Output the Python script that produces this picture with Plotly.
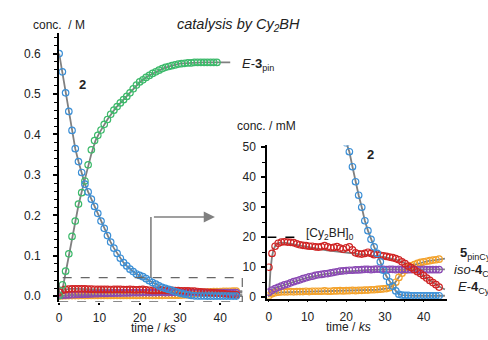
import plotly.graph_objects as go

# ---------------- data (concentrations in mM, time in ks) ----------------
T = [0.0, 0.8, 1.6, 2.4, 3.2, 4.0, 4.8, 5.6, 6.4, 7.2, 8.0, 8.8, 9.6, 10.4, 11.2,
     12.0, 12.8, 13.6, 14.4, 15.2, 16.0, 16.8, 17.6, 18.4, 19.2, 20.0, 20.8, 21.6,
     22.4, 23.2, 24.0, 24.8, 25.6, 26.4, 27.2, 28.0, 28.8, 29.6, 30.4, 31.2, 32.0,
     32.8, 33.6, 34.4, 35.2, 36.0, 36.8, 37.6, 38.4, 39.2, 40.0, 40.8, 41.6, 42.4,
     43.2, 44.0]

S2 = [600, 555, 503, 457, 410, 365, 333, 306, 277, 258, 240, 222, 205, 186, 168,
      150, 134, 119, 106, 94, 83, 75, 67, 61, 55, 51.5, 48.5, 43.5,
      38.5, 34.0, 30.0, 25.5, 22.2, 19.3, 16.8, 14.6, 11.8, 9.0, 7.0, 5.1, 3.7,
      2.1, 1.0, 0.7, 0.6, 0.6, 0.5, 0.5, 0.5, 0.5, 0.5, 0.5, 0.5, 0.5,
      0.5, 0.5]

E3PIN = [2, 28, 62, 105, 148, 186, 228, 256, 285, 325, 362, 385, 398, 411, 425,
         437, 450, 460, 469, 478, 486, 494, 503, 513, 522, 530, 535, 541,
         546, 551, 555, 559, 563, 566, 568, 570, 572, 574, 575, 576, 577,
         577, 578, 578, 578, 578, 578, 578, 578, 578, None, None, None, None,
         None, None]

E4CY = [10.0, 14.6, 17.0, 18.0, 18.4, 18.5, 18.4, 18.3, 18.2, 17.8, 17.5, 17.3, 17.2, 17.0, 17.0,
        16.8, 16.7, 16.9, 17.2, 16.8, 16.5, 16.6, 16.9, 16.4, 16.0, 16.5, 16.8, 15.8,
        14.8, 14.5, 14.4, 14.6, 15.0, 14.6, 14.2, 14.4, 14.0, 13.8, 13.6, 13.4, 13.2,
        12.9, 12.5, 11.8, 11.2, 10.4, 9.9, 9.2, 8.5, 7.9, 7.2, 6.4, 5.6, 4.9,
        4.2, 3.4]

ISO4CY = [1.7, 2.4, 2.9, 3.3, 3.7, 4.1, 4.4, 4.8, 5.2, 5.5, 5.8, 6.2, 6.5, 6.8, 7.0,
          7.3, 7.5, 7.6, 7.8, 7.9, 8.1, 8.3, 8.5, 8.7, 8.8, 8.9, 9.0, 9.0,
          9.1, 9.1, 9.2, 9.3, 9.3, 9.2, 9.3, 9.4, 9.3, 9.3, 9.2, 9.3, 9.3,
          9.2, 9.3, 9.2, 9.3, 9.2, 9.2, 9.3, 9.2, 9.2, 9.3, 9.2, 9.2, 9.2,
          9.2, 9.2]

P5CY = [0.5, 1.2, 1.5, 1.7, 1.8, 1.8, 1.8, 1.9, 1.8, 1.9, 1.9, 1.9, 2.0, 1.9, 2.0,
        2.0, 2.0, 2.0, 2.1, 2.0, 2.0, 2.1, 2.1, 2.2, 2.1, 2.2, 2.2, 2.3,
        2.2, 2.3, 2.3, 2.4, 2.4, 2.5, 2.5, 2.6, 2.7, 2.8, 2.9, 3.2, 3.8,
        5.0, 6.6, 8.0, 9.0, 9.9, 10.5, 10.9, 11.3, 11.6, 11.8, 12.0, 12.2, 12.4,
        12.5, 12.7]

# model fits (grey lines)
FIT_T_E3 = [0.5, 1.6, 2.4, 3.2, 4.0, 4.8, 5.6, 6.4, 7.2, 8.0, 9.0, 10.0, 12.0, 14.0,
            16.0, 18.0, 20.0, 22.0, 24.0, 26.0, 28.0, 30.0, 33.0, 36.0, 42.5]
FIT_E3 = [0, 58, 101, 144, 186, 225, 258, 290, 322, 352, 384, 404, 437, 465,
          486, 508, 529, 544, 555, 564, 570, 575, 577, 578, 578]

FIT_T_E4 = [0, 0.4, 0.8, 1.2, 1.8, 2.5, 4, 6, 10, 15, 20, 25, 30, 33, 35, 37, 40, 44, 45.5]
FIT_E4 = [0, 9, 13.5, 16, 17.5, 18.1, 18.2, 17.8, 16.8, 15.6, 14.8, 14.2, 13.4, 12.5, 11.4,
          9.6, 7.0, 3.6, 2.6]

FIT_T_ISO = [0, 1, 2, 4, 7, 10, 14, 18, 22, 26, 30, 45.5]
FIT_ISO = [1.6, 2.6, 3.2, 4.1, 5.4, 6.5, 7.6, 8.4, 8.9, 9.15, 9.25, 9.3]

FIT_T_P5 = [0, 1, 3, 10, 20, 28, 31, 32, 33, 34, 35, 36, 37.5, 39, 41, 43, 45.5]
FIT_P5 = [0.2, 1.2, 1.6, 1.8, 2.1, 2.5, 3.0, 3.8, 5.6, 7.5, 8.8, 9.8, 10.8, 11.4, 12.0, 12.4, 12.9]

FIT_T_2 = T + [45.5]
FIT_2 = S2 + [0.5]

CAT0 = 20  # [Cy2BH]0 in mM

# ---------------- styling ----------------
W, H = 488, 340
BLUE = "#3b8fd6"
GREEN = "#3cb96a"
RED = "#cf2424"
PURPLE = "#8a4ab3"
ORANGE = "#f3a22c"
GREY = "#808080"
FONT = "Liberation Sans, Arial, sans-serif"
TXT = "#222222"


def px(x):
    return x / W


def py(y):
    return 1 - y / H


def to_M(vals):
    return [None if v is None else v / 1000 for v in vals]


fig = go.Figure()


def line(x, y, xa, ya):
    fig.add_trace(go.Scatter(x=x, y=y, mode="lines", xaxis=xa, yaxis=ya,
                             line=dict(color=GREY, width=1.8), hoverinfo="skip",
                             showlegend=False))


def pts(x, y, color, xa, ya):
    fig.add_trace(go.Scatter(x=x, y=y, mode="markers", xaxis=xa, yaxis=ya,
                             marker=dict(symbol="circle-open", size=6.5, color=color,
                                         line=dict(width=1.2, color=color)),
                             showlegend=False, cliponaxis=True))


# main plot (M)
line(FIT_T_2, to_M(FIT_2), "x", "y")
line(FIT_T_E3, to_M(FIT_E3), "x", "y")
line(FIT_T_E4, to_M(FIT_E4), "x", "y")
line(FIT_T_ISO, to_M(FIT_ISO), "x", "y")
line(FIT_T_P5, to_M(FIT_P5), "x", "y")
pts(T, to_M(P5CY), ORANGE, "x", "y")
pts(T, to_M(ISO4CY), PURPLE, "x", "y")
pts(T, to_M(E4CY), RED, "x", "y")
pts(T, to_M(E3PIN), GREEN, "x", "y")
pts(T, to_M(S2), BLUE, "x", "y")

# inset (mM)
line(FIT_T_2, FIT_2, "x2", "y2")
line(FIT_T_E4, FIT_E4, "x2", "y2")
line(FIT_T_ISO, FIT_ISO, "x2", "y2")
line(FIT_T_P5, FIT_P5, "x2", "y2")
pts(T, P5CY, ORANGE, "x2", "y2")
pts(T, ISO4CY, PURPLE, "x2", "y2")
pts(T, E4CY, RED, "x2", "y2")
pts(T, S2, BLUE, "x2", "y2")

tickfont = dict(family=FONT, size=12, color=TXT)

# main axes geometry: y=0 at 301px, 418 px/M ; x=0 at 56.5px, 4.05 px/ks
main_y_range = [-0.014, 0.65]
main_x_range = [0, 46]
ins_y_range = [-0.5, 50.6]
ins_x_range = [-0.4, 46]

fig.update_layout(
    width=W, height=H, margin=dict(l=0, r=0, t=0, b=0),
    paper_bgcolor="white", plot_bgcolor="rgba(0,0,0,0)", showlegend=False,
    xaxis=dict(domain=[px(56.5), px(56.5 + 46 * 4.05)], range=main_x_range,
               showgrid=False, zeroline=False, showline=False,
               ticks="outside", ticklen=2, tickwidth=1.5, tickcolor="black",
               tickvals=[0, 10, 20, 30, 40], tickfont=tickfont, ticklabelstandoff=3,
               anchor="y"),
    yaxis=dict(domain=[py(301 + 0.014 * 418), py(301 - 0.65 * 418)], range=main_y_range,
               showgrid=False, zeroline=False, showline=True, linecolor="black",
               linewidth=2, ticks="outside", ticklen=4, tickwidth=1.5, tickcolor="black",
               tickvals=[0, 0.1, 0.2, 0.3, 0.4, 0.5, 0.6], tickformat=".1f",
               tickfont=tickfont, ticklabelstandoff=10,
               minor=dict(dtick=0.02, tick0=0, ticks="outside", ticklen=3,
                          tickcolor="black", tickwidth=1.2),
               anchor="x"),
    xaxis2=dict(domain=[px(266), px(266 + 46.4 * 3.892)], range=ins_x_range,
                showgrid=False, zeroline=False, showline=True, linecolor="black",
                linewidth=1.5, ticks="outside", ticklen=2, tickcolor="black",
                tickvals=[0, 10, 20, 30, 40], tickfont=tickfont, ticklabelstandoff=4,
                minor=dict(tickvals=[5, 15, 25, 35], ticks="outside", ticklen=2,
                           tickcolor="black"),
                anchor="y2"),
    yaxis2=dict(domain=[py(302 + 0.5 * 3.1), py(302 - 50.6 * 3.1)], range=ins_y_range,
                showgrid=False, zeroline=False, showline=True, linecolor="black",
                linewidth=2, ticks="outside", ticklen=4, tickwidth=1.5, tickcolor="black",
                tickvals=[0, 10, 20, 30, 40, 50], tickfont=tickfont, ticklabelstandoff=3,
                minor=dict(tickvals=[5, 15, 25, 35, 45], ticks="outside", ticklen=3,
                           tickcolor="black", tickwidth=1.2),
                anchor="x2"),
)

# dashed zoom box + arrow on main plot
fig.add_shape(type="rect", xref="x", yref="y", x0=0, x1=45.5, y0=-0.014, y1=0.046,
              line=dict(color="#666666", width=1.2, dash="dash"))
fig.add_shape(type="line", xref="x", yref="y", x0=22.8, x1=22.8, y0=0.046, y1=0.196,
              line=dict(color=GREY, width=1.6))
fig.add_annotation(x=38.7, y=0.196, ax=22.8, ay=0.196, xref="x", yref="y",
                   axref="x", ayref="y", showarrow=True, arrowhead=2, arrowsize=1.4,
                   arrowwidth=1.6, arrowcolor=GREY, text=" ")

# [Cy2BH]0 dashed line in inset
fig.add_shape(type="line", xref="x2", yref="y2", x0=-0.4, x1=8.3, y0=CAT0, y1=CAT0,
              line=dict(color="black", width=1.5, dash="dash"))


def label(text, x, y, size=12, xanchor="left", yanchor="middle"):
    fig.add_annotation(text=text, x=px(x), y=py(y), xref="paper", yref="paper",
                       showarrow=False, xanchor=xanchor, yanchor=yanchor,
                       font=dict(family=FONT, size=size, color=TXT))


label("<i>catalysis by Cy<sub>2</sub>BH</i>", 237, 21, size=14.5, xanchor="center")
label("conc.&nbsp; / M", 28, 21)
label("conc. / mM", 233, 125)
label("time / <i>ks</i>", 151, 334, xanchor="center")
label("time / <i>ks</i>", 348, 332.5, xanchor="center")
label("<b>2</b>", 74, 82, size=13)
label("<b>2</b>", 364, 154, size=13)
label("<i>E</i>-<b>3</b><sub>pin</sub>", 238, 62, size=13)
label("[Cy<sub>2</sub>BH]<sub>0</sub>", 303, 237, size=12)
label("<b>5</b><sub>pinCy</sub>", 458, 257, size=13)
label("<i>iso</i>-<b>4</b><sub>Cy</sub>", 452, 274, size=13)
label("<i>E</i>-<b>4</b><sub>Cy</sub>", 456, 292, size=13)

fig.write_html("out.html")
